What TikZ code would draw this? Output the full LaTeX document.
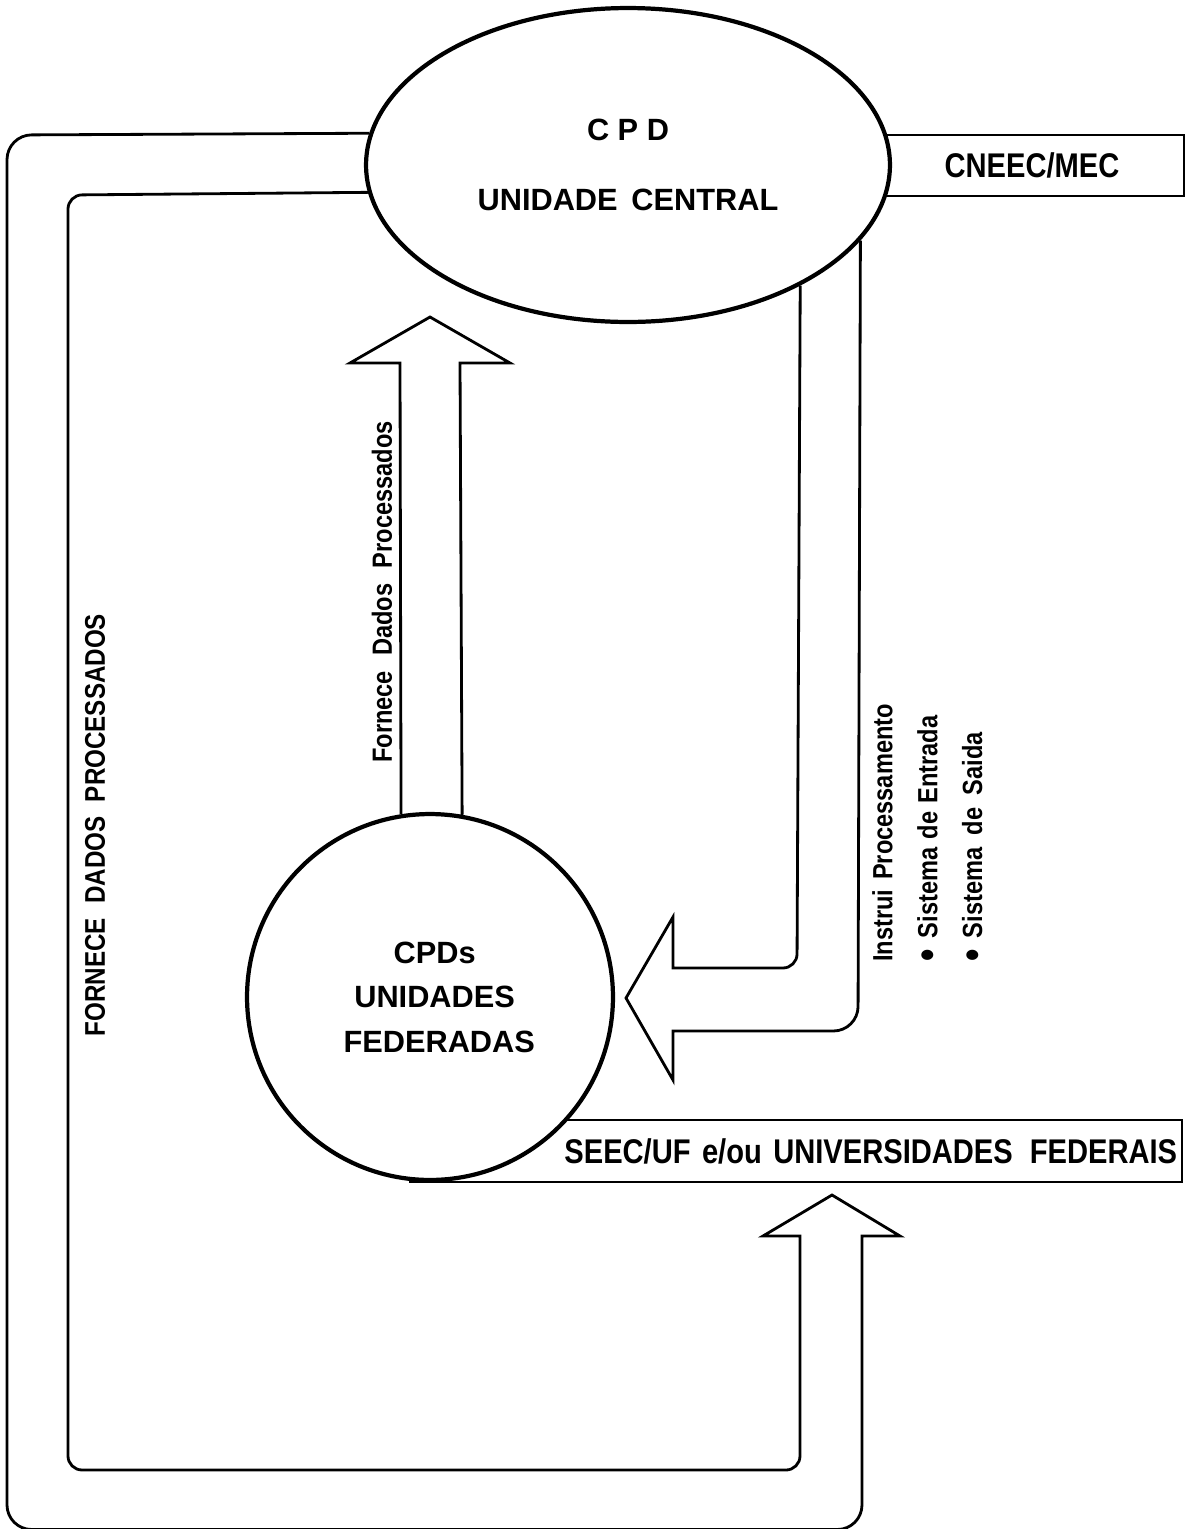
\documentclass[tikz,border=0pt]{standalone}
\usepackage{fontspec}
\setmainfont{Liberation Sans}
\newfontfamily\condfont[FakeStretch=0.85]{Liberation Sans}
\newcommand{\flowbullet}{\raisebox{-0.15em}{\scalebox{1.5}{\textbullet}}}
\usetikzlibrary{shapes.geometric,backgrounds}

\begin{document}
\begin{tikzpicture}[x=0.02cm, y=-0.02cm,
                    pipe/.style={line width=1.6pt, line join=miter},
                    unit/.style={draw, line width=2.4pt, fill=white,
                                 inner sep=0pt, align=center},
                    orgbox/.style={draw, line width=1.6pt, inner sep=0pt,
                                   font=\condfont\bfseries\fontsize{19.5}{24}\selectfont},
                    flowtext/.style={rotate=90, inner sep=0pt,
                                     font=\condfont\bfseries\fontsize{15.8}{25.5}\selectfont}]
  \useasboundingbox (0,0) rectangle (1194,1529);

  \node[unit, ellipse, minimum width=10.48cm, minimum height=6.28cm,
        font=\bfseries\fontsize{17.5}{39.8}\selectfont] (cpd) at (628,165)
        {C P D\\UNIDADE\hspace{0.45em}CENTRAL};
  \node[unit, circle, minimum size=7.32cm,
        font=\bfseries\fontsize{17.5}{25.3}\selectfont] (uf) at (430,997)
        {\hspace*{0.3em}CPDs\\\hspace*{0.3em}UNIDADES\\\hspace*{0.6em}FEDERADAS};

  \begin{pgfonlayer}{background}
    \node[orgbox, minimum width=6.08cm, minimum height=1.22cm] (cneec) at (1032,165.5) {CNEEC/MEC};
    \node[orgbox, minimum width=15.44cm, minimum height=1.24cm,
          text width=15.25cm, align=right] (seec) at (796,1151)
          {SEEC/UF e/ou UNIVERSIDADES\hspace{0.5em}FEDERAIS};
  \end{pgfonlayer}

  % outer loop
  \draw[pipe, rounded corners=14pt] (cpd.173.3) -- (7,135) -- (7,1529.5) -- (862,1529.5)
        [sharp corners] -- (862,1236) -- (900,1236) -- (832,1195) -- (763,1236) -- (800,1236)
        [rounded corners=8pt] -- (800,1470) -- (68,1470) -- (68,195) -- (cpd.186.7);
  % instrui
  \draw[pipe] (cpd.-35.4) [rounded corners=8pt] -- (797,968) [sharp corners] -- (673,968)
        -- (673,917) -- (626,998) -- (673,1080) -- (673,1031)
        [rounded corners=14pt] -- (858,1031) [sharp corners] -- (cpd.-18.1);
  % fornece
  \draw[pipe] (uf.99.4) -- (400,363) -- (350,363) -- (430,317) -- (510,363) -- (460,363) -- (uf.80.6);

  \node[flowtext, font=\condfont\bfseries\fontsize{16.2}{20}\selectfont] (fornece) at (95,825)
        {FORNECE\hspace{0.5em}DADOS\hspace{0.5em}PROCESSADOS};
  \node[flowtext] (dados) at (382,592) {Fornece\hspace{0.55em}Dados\hspace{0.55em}Processados};
  \node[flowtext, anchor=north west, align=left] (instrui) at (872,962)
        {Instrui\hspace{0.35em}Processamento\\\flowbullet\hspace{0.4em}Sistema\hspace{0.3em}de\hspace{0.3em}Entrada\\\flowbullet\hspace{0.4em}Sistema\hspace{0.45em}de\hspace{0.45em}Saida};
\end{tikzpicture}
\end{document}
